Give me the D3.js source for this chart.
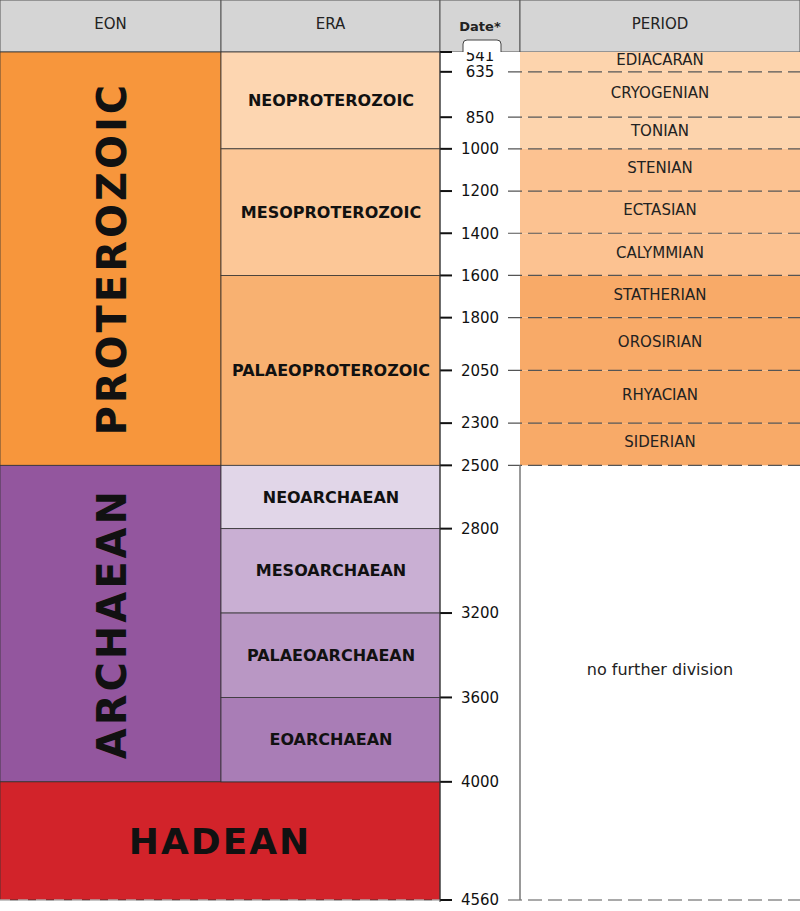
<!DOCTYPE html>
<html><head><meta charset="utf-8">
<script src="https://cdn.jsdelivr.net/npm/d3@7"></script>
<style>body{margin:0;background:#fff}text{font-family:Verdana,"DejaVu Sans",sans-serif}</style>
</head><body><svg id="c" width="800" height="911"></svg>
<script>
const eons = [
  { name: 'PROTEROZOIC', start: 541, end: 2500, color: '#f7963c', rotate: true },
  { name: 'ARCHAEAN', start: 2500, end: 4000, color: '#93569e', rotate: true },
  { name: 'HADEAN', start: 4000, end: 4560, color: '#d2232a', rotate: false },
];
const eras = [
  { name: 'NEOPROTEROZOIC', start: 541, end: 1000, color: '#fdd6b1' },
  { name: 'MESOPROTEROZOIC', start: 1000, end: 1600, color: '#fcc797' },
  { name: 'PALAEOPROTEROZOIC', start: 1600, end: 2500, color: '#f8b171' },
  { name: 'NEOARCHAEAN', start: 2500, end: 2800, color: '#e1d6e8' },
  { name: 'MESOARCHAEAN', start: 2800, end: 3200, color: '#c9afd3' },
  { name: 'PALAEOARCHAEAN', start: 3200, end: 3600, color: '#b997c4' },
  { name: 'EOARCHAEAN', start: 3600, end: 4000, color: '#a97db6' },
];
const periods = [
  { name: 'EDIACARAN', start: 541, end: 635, color: '#fdd4ad' },
  { name: 'CRYOGENIAN', start: 635, end: 850, color: '#fdd4ad' },
  { name: 'TONIAN', start: 850, end: 1000, color: '#fdd4ad' },
  { name: 'STENIAN', start: 1000, end: 1200, color: '#fcc291' },
  { name: 'ECTASIAN', start: 1200, end: 1400, color: '#fcc291' },
  { name: 'CALYMMIAN', start: 1400, end: 1600, color: '#fcc291' },
  { name: 'STATHERIAN', start: 1600, end: 1800, color: '#f8aa68' },
  { name: 'OROSIRIAN', start: 1800, end: 2050, color: '#f8aa68' },
  { name: 'RHYACIAN', start: 2050, end: 2300, color: '#f8aa68' },
  { name: 'SIDERIAN', start: 2300, end: 2500, color: '#f8aa68' },
];
const dateTicks = [541, 635, 850, 1000, 1200, 1400, 1600, 1800, 2050, 2300, 2500, 2800, 3200, 3600, 4000, 4560];
const headers = ['EON', 'ERA', 'Date*', 'PERIOD'];

const cols = [0, 221, 440, 520, 800];
const svg = d3.select('#c');
const y = d3.scaleLinear().domain([541, 4560]).range([52, 900]);

// header
svg.selectAll('rect.h').data(headers).join('rect')
  .attr('x', (d, i) => cols[i]).attr('y', 0)
  .attr('width', (d, i) => cols[i + 1] - cols[i]).attr('height', 52)
  .attr('fill', '#d5d5d5').attr('stroke', '#555').attr('stroke-width', 1);
svg.selectAll('text.h').data(headers).join('text')
  .attr('x', (d, i) => (cols[i] + cols[i + 1]) / 2).attr('y', (d, i) => i === 2 ? 31 : 29)
  .attr('text-anchor', 'middle').attr('font-size', (d, i) => i === 2 ? 13 : 15).attr('fill', '#222')
  .attr('font-weight', (d, i) => i === 2 ? 'bold' : 'normal').text(d => d);

// date column background
svg.append('rect').attr('x', 440).attr('y', 52).attr('width', 80).attr('height', 850).attr('fill', '#fff');

// eons (Hadean spans eon + era columns)
svg.selectAll('rect.eon').data(eons).join('rect')
  .attr('x', cols[0]).attr('y', d => y(d.start)).attr('width', d => d.rotate ? cols[1] - cols[0] : cols[2] - cols[0])
  .attr('height', d => y(d.end) - y(d.start)).attr('fill', d => d.color).attr('stroke', '#333').attr('stroke-width', 0.8);
eons.forEach(d => {
  const cy = (y(d.start) + y(d.end)) / 2;
  if (d.rotate) {
    svg.append('text').attr('transform', `translate(112,${cy}) rotate(-90)`)
      .attr('text-anchor', 'middle').attr('dy', '0.35em').attr('font-size', 40).attr('font-weight', 'bold')
      .attr('letter-spacing', 3).attr('fill', '#111').text(d.name);
  } else {
    svg.append('text').attr('x', 220).attr('y', cy).attr('dy', '0.35em').attr('text-anchor', 'middle')
      .attr('font-size', 36).attr('font-weight', 'bold').attr('letter-spacing', 2).attr('fill', '#111').text(d.name);
  }
});

// eras
svg.selectAll('rect.era').data(eras).join('rect')
  .attr('x', cols[1]).attr('y', d => y(d.start)).attr('width', cols[2] - cols[1])
  .attr('height', d => y(d.end) - y(d.start)).attr('fill', d => d.color).attr('stroke', '#333').attr('stroke-width', 0.8);
svg.selectAll('text.era').data(eras).join('text')
  .attr('x', 331).attr('y', d => (y(d.start) + y(d.end)) / 2).attr('dy', '0.35em')
  .attr('text-anchor', 'middle').attr('font-size', 16).attr('font-weight', 'bold').attr('fill', '#111')
  .text(d => d.name);

// periods
svg.selectAll('rect.per').data(periods).join('rect')
  .attr('x', cols[3]).attr('y', d => y(d.start)).attr('width', cols[4] - cols[3])
  .attr('height', d => y(d.end) - y(d.start)).attr('fill', d => d.color);
svg.selectAll('text.per').data(periods).join('text')
  .attr('x', 660).attr('y', d => (y(d.start) + y(d.end)) / 2 - 2).attr('dy', '0.35em')
  .attr('text-anchor', 'middle').attr('font-size', 15).attr('fill', '#222').text(d => d.name);
svg.append('text').attr('x', 660).attr('y', 675).attr('text-anchor', 'middle')
  .attr('font-size', 16).attr('fill', '#222').text('no further division');

// dashed boundaries across period column
svg.selectAll('line.dash').data(dateTicks.slice(1)).join('line')
  .attr('x1', 508).attr('x2', 800).attr('y1', d => y(d)).attr('y2', d => y(d))
  .attr('stroke', d => d > 2500 && d < 4560 ? 'none' : '#555').attr('stroke-width', 1.2)
  .attr('stroke-dasharray', '14,6');
svg.append('line').attr('x1', 520).attr('x2', 520).attr('y1', y(2500)).attr('y2', y(4560)).attr('stroke', '#777').attr('stroke-width', 1.5);
svg.append('line').attr('x1', 0).attr('x2', 440).attr('y1', y(4560)).attr('y2', y(4560)).attr('stroke', '#ddd').attr('stroke-dasharray', '10,8');

// date axis
const axis = d3.axisRight(y).tickValues(dateTicks).tickSize(0).tickFormat(d3.format('d'));
const ag = svg.append('g').attr('transform', 'translate(460,0)').call(axis);
ag.select('.domain').remove();
ag.selectAll('text').attr('x', 20).attr('text-anchor', 'middle').attr('font-size', 15).attr('fill', '#111')
  .attr('font-family', '"Open Sans", "DejaVu Sans", sans-serif')
  .attr('dy', d => d === 541 ? '0.55em' : '0.32em');
svg.selectAll('line.lt').data(dateTicks).join('line')
  .attr('x1', 440).attr('x2', 452).attr('y1', d => y(d)).attr('y2', d => y(d))
  .attr('stroke', '#111').attr('stroke-width', 2);
svg.append('line').attr('x1', 440).attr('x2', 440).attr('y1', 52).attr('y2', 902).attr('stroke', '#333');
// notch tab at 541
svg.append('path').attr('d', 'M463,52 V44 Q463,40 467,40 H497 Q501,40 501,44 V52').attr('fill', '#fff').attr('stroke', '#444');
</script></body></html>
